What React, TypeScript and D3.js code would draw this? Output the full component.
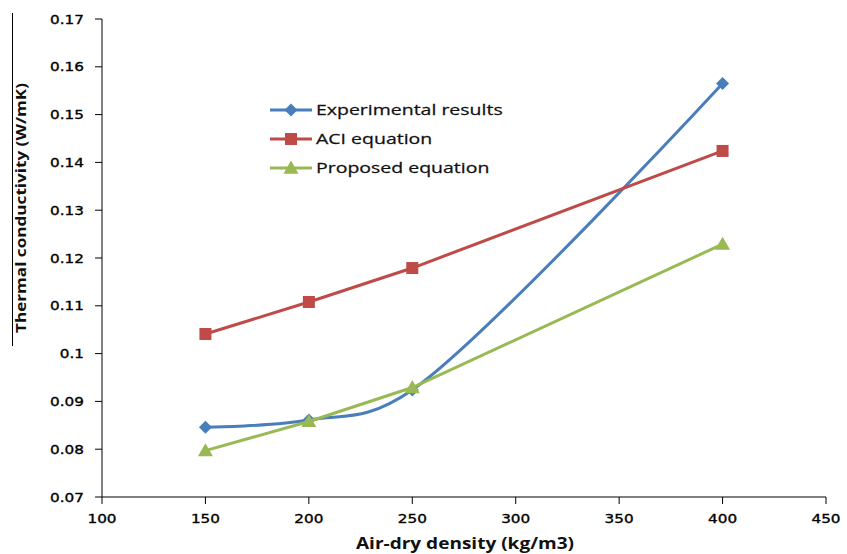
import { useEffect } from 'react';
import * as d3 from 'd3';

const densities = [150, 200, 250, 400];
const experimental = [0.0846, 0.0861, 0.0924, 0.1565];
const aci = [0.1041, 0.1108, 0.1179, 0.1424];
const proposed = [0.0797, 0.0858, 0.0929, 0.1229];

const xTicks = [100, 150, 200, 250, 300, 350, 400, 450];
const yTicks = [0.07, 0.08, 0.09, 0.1, 0.11, 0.12, 0.13, 0.14, 0.15, 0.16, 0.17];

const SERIES = [
  { name: 'Experimental results', values: experimental, color: '#4a7ebb', marker: 'diamond', smooth: true },
  { name: 'ACI equation', values: aci, color: '#be4b48', marker: 'square', smooth: false },
  { name: 'Proposed equation', values: proposed, color: '#98b954', marker: 'triangle', smooth: false },
];

const W = 847;
const H = 554;
const tickFont = 'DejaVu Sans, Verdana, sans-serif';
const labelFont = '"Open Sans", Calibri, sans-serif';

function Marker({ type, x, y, color }: { type: string; x: number; y: number; color: string }) {
  if (type === 'diamond') {
    const s = 6.5;
    return <path d={`M${x},${y - s}L${x + s},${y}L${x},${y + s}L${x - s},${y}Z`} fill={color} />;
  }
  if (type === 'square') {
    const s = 6;
    return <rect x={x - s} y={y - s} width={s * 2} height={s * 2} fill={color} />;
  }
  const s = 7.5;
  return <path d={`M${x},${y - s}L${x + s},${y + s * 0.75}L${x - s},${y + s * 0.75}Z`} fill={color} />;
}

export default function App() {
  useEffect(() => {
    document.body.style.margin = '0';
  }, []);

  const x = d3.scaleLinear().domain([100, 450]).range([102, 826]);
  const y = d3.scaleLinear().domain([0.07, 0.17]).range([497, 19]);

  // smoothed like Excel's "smoothed line" for the experimental series
  const lineFor = (smooth: boolean) =>
    d3.line<number>()
      .x((_, i) => x(densities[i]))
      .y(d => y(d))
      .curve(smooth ? d3.curveCatmullRom.alpha(0.3) : d3.curveLinear);

  const legendX = 270;
  const legendY = [110, 139, 168];

  // tick labels in the picture are stretched sideways
  const stretch = 1.22;

  return (
    <svg width={W} height={H} style={{ display: 'block', background: '#fff' }}>
      {/* y axis */}
      <line x1={x(100)} x2={x(100)} y1={y(0.17)} y2={y(0.07)} stroke="#000" strokeWidth={1} />
      {yTicks.map(t => (
        <g key={t}>
          <line x1={x(100) - 7} x2={x(100)} y1={y(t)} y2={y(t)} stroke="#000" />
          <text transform={`translate(84,${y(t)}) scale(${stretch},1)`} dy="0.36em" textAnchor="end"
            fontFamily={tickFont} fontSize={12.5} fill="#000" stroke="#000" strokeWidth={0.35}>
            {d3.format('')(+t.toFixed(2))}
          </text>
        </g>
      ))}
      {/* x axis */}
      <line x1={x(100)} x2={x(450)} y1={y(0.07)} y2={y(0.07)} stroke="#000" strokeWidth={1} />
      {xTicks.map(t => (
        <g key={t}>
          <line x1={x(t)} x2={x(t)} y1={y(0.07)} y2={y(0.07) + 7} stroke="#000" />
          <text transform={`translate(${x(t)},523) scale(${stretch},1)`} textAnchor="middle"
            fontFamily={tickFont} fontSize={12.5} fill="#000" stroke="#000" strokeWidth={0.35}>{t}</text>
        </g>
      ))}

      {/* axis titles */}
      <line x1={12.5} x2={12.5} y1={13} y2={346} stroke="#000" strokeWidth={1} />
      <text transform="translate(26,208) rotate(-90)" textAnchor="middle" fontFamily={labelFont}
        fontWeight="bold" fontSize={15} textLength={250} lengthAdjust="spacingAndGlyphs" fill="#111">
        Thermal conductivity (W/mK)
      </text>
      <text x={465} y={549} textAnchor="middle" fontFamily={labelFont} fontWeight="bold" fontSize={16}
        textLength={218} lengthAdjust="spacingAndGlyphs" fill="#111">
        Air-dry density (kg/m3)
      </text>

      {/* series */}
      {SERIES.map(s => (
        <g key={s.name}>
          <path d={lineFor(s.smooth)(s.values) ?? ''} fill="none" stroke={s.color} strokeWidth={3} />
          {s.values.map((v, i) => (
            <Marker key={i} type={s.marker} x={x(densities[i])} y={y(v)} color={s.color} />
          ))}
        </g>
      ))}

      {/* legend */}
      {SERIES.map((s, i) => (
        <g key={s.name}>
          <line x1={legendX} x2={legendX + 42} y1={legendY[i]} y2={legendY[i]} stroke={s.color} strokeWidth={3} />
          <Marker type={s.marker} x={legendX + 21} y={legendY[i]} color={s.color} />
          <text transform={`translate(${legendX + 46},${legendY[i]}) scale(1.3,1)`} dy="0.36em"
            fontFamily={labelFont} fontSize={15} fill="#111" stroke="#111" strokeWidth={0.25}>
            {s.name}
          </text>
        </g>
      ))}
    </svg>
  );
}
